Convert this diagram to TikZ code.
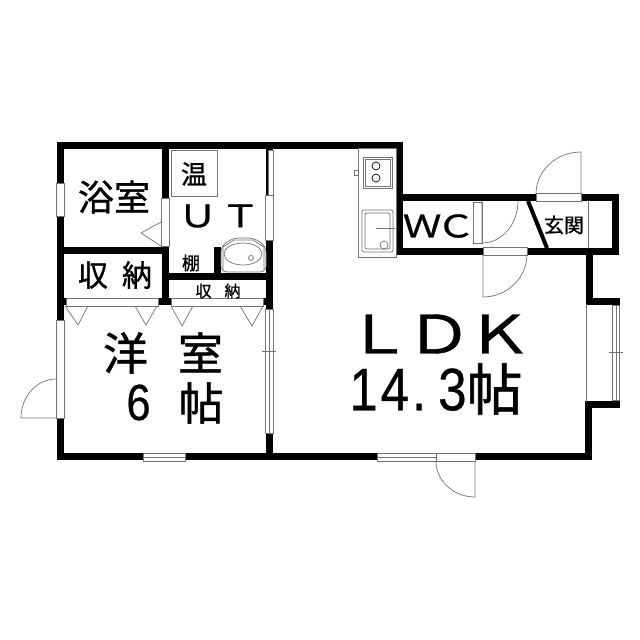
\documentclass[tikz,border=0pt]{standalone}
\usepackage{fontspec}
\setmainfont[FakeBold=1]{Noto Sans CJK JP}
\newfontfamily\numfont[FakeStretch=0.85,FakeBold=0.5]{Liberation Sans}
\newfontfamily\capfont[FakeStretch=1.25,FakeBold=0.8]{Noto Sans CJK JP}
\tikzset{
  wall/.style={line width=7pt, draw=black, line cap=rect, line join=miter},
  opening/.style={fill=white, draw=black!55, line width=0.7pt},
  fine/.style={draw=black!55, line width=0.7pt},
  label/.style={inner sep=0pt, font=\fontsize{#1}{#1}\selectfont}
}
\begin{document}
\begin{tikzpicture}[x=1pt,y=-1pt]
\useasboundingbox (0,0) rectangle (640,640);
% walls
\draw[wall] (589,301) -- (589,251) -- (399,251) -- (399,145) -- (60,145) -- (60,456.5) -- (588,456.5) -- (588,404.5) -- (616,404.5);
\draw[wall] (399,197.5) -- (615,197.5) -- (615,251) -- (589,251);
\draw[wall] (589,301) -- (616,301);
\draw[wall] (165,145) -- (165,301.5);
\draw[wall] (269,145) -- (269,456.5);
\draw[wall] (60,250) -- (165,250);
\draw[wall] (165,276.5) -- (269,276.5);
\draw[wall] (60,301.5) -- (269,301.5);
\draw[wall] (217,250) -- (217,276.5);
\draw[line width=4pt] (528,201) -- (547,248);
% windows and door openings
\draw[opening] (56,183) rectangle (64,216);
\draw[opening] (161,198) rectangle (169,246);
\draw[opening] (268,150) rectangle (273,195);
\draw[opening] (265,195) rectangle (273,240);
\draw[opening] (66,298) rectangle (158,306);
\draw[opening] (171,298) rectangle (263,306);
\draw[opening] (56,320) rectangle (64,418);
\draw[opening] (265,309) rectangle (273,433);
\draw[fine] (269,309) -- (269,433);
\draw[opening] (143,453) rectangle (185,461);
\draw[fine] (143,457) -- (185,457);
\draw[opening] (377,453) rectangle (436,461);
\draw[fine] (377,457) -- (436,457);
\draw[opening] (436,453) rectangle (475,461);
\draw[opening] (536,193) rectangle (581,201);
\draw[opening] (473,202) rectangle (482,243);
\draw[opening] (483,247) rectangle (527,255);
\draw[opening] (612,305) rectangle (619,400);
\draw[fine] (616,305) -- (616,400);
\draw[fine] (586,304) -- (586,402);
\draw[fine] (588,201) -- (588,248);
% door swings
\draw[fine] (56,418) -- (21,418) arc[start angle=180, end angle=270, x radius=35, y radius=39];
\draw[fine] (475,461) -- (475,497) arc[start angle=90, end angle=180, x radius=39, y radius=36];
\draw[fine] (581,194) -- (581,152) arc[start angle=270, end angle=180, x radius=45, y radius=42];
\draw[fine] (482,201) -- (482,243) arc[start angle=90, end angle=0, x radius=36, y radius=42];
\draw[fine] (483,254) -- (483,297) arc[start angle=90, end angle=0, x radius=44, y radius=43];
% folding door marks
\draw[fine] (65,306) -- (78,325) -- (88,306);
\draw[fine] (135,306) -- (146,325) -- (157,306);
\draw[fine] (171,306) -- (182,326) -- (193,306);
\draw[fine] (240,306) -- (252,326) -- (263,306);
\draw[fine] (161,222) -- (141,233) -- (161,246);
\draw[fine] (262,351) -- (276,351);
\draw[fine] (265,345) -- (265,357);
\draw[fine] (609,352) -- (623,352);
\draw[fine] (616,346) -- (616,358);
% kitchen
\draw[fine, fill=white] (358,148) rectangle (396,257);
\draw[fine] (363,157) rectangle (392,188);
\draw[fine] (365,159) rectangle (390,186);
\draw[fine, black] (376,166) circle (4);
\draw[fine, black] (376,178) circle (4);
\draw[fine] (354,170) rectangle (358,175);
\draw[fine, rounded corners=2pt] (362,210) rectangle (393,252);
\draw[fine, rounded corners=2pt] (365,213) rectangle (390,249);
\draw[fine] (376,228) -- (395,228);
\draw[fine] (384,245) circle (4);
% bath fittings
\draw[fine] (171,150) rectangle (217,196);
\draw[fine, fill=white, rounded corners=6pt] (221,272) -- (221,246) -- (233,238) -- (254,238) -- (266,246) -- (266,272) -- cycle;
\draw[fine] (223,270) -- (223,247) -- (234,240) -- (253,240) -- (264,247) -- (264,270);
\draw[fine] (243,254) ellipse (19 and 11);
\draw[fine] (251,258) circle (2.5);
% room names
\node[label=36] (bath) at (114,197) {浴室};
\node[label=26] (onsui) at (194,174) {温};
\node[label=31] (ut) at (219,216) {\capfont Ｕ\hspace{4pt}Ｔ};
\node[label=30] (closetl) at (115,275) {収\hspace{14pt}納};
\node[label=18] (shelf) at (191,263) {棚};
\node[label=16] (closetr) at (218,291) {収\hspace{13pt}納};
\node[label=45] (youshitsu) at (163,353) {洋\hspace{30pt}室};
\node[label=51] (sixjo) at (175,403) {\numfont 6\hspace{28pt}\rmfamily\fontsize{45}{45}\selectfont 帖};
\node[label=53] (ldk) at (439,334) {\capfont Ｌ\hspace{-6pt}Ｄ\hspace{-6pt}Ｋ};
\node[label=60] (area) at (436,389) {\numfont 1\hspace{3pt}4\hspace{3pt}.\hspace{12pt}3\rmfamily\fontsize{56}{56}\selectfont 帖};
\node[label=31] (wc) at (439,226) {\capfont Ｗ\hspace{-5pt}Ｃ};
\node[label=20] (genkan) at (564,225) {玄関};
\end{tikzpicture}
\end{document}
